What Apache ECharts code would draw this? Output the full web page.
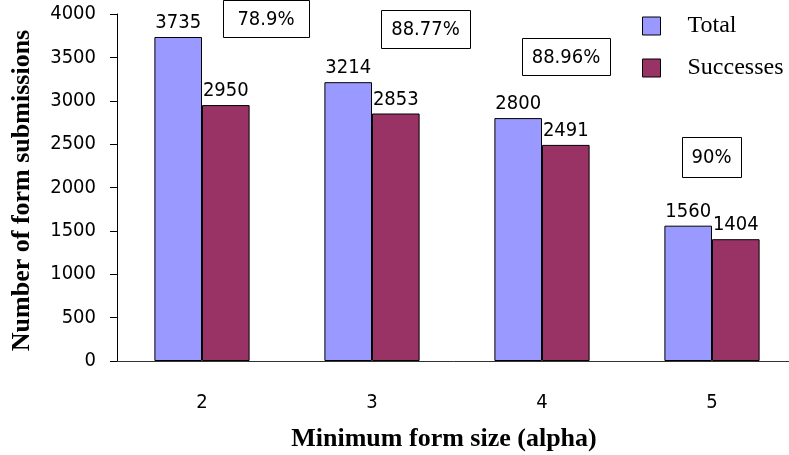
<!DOCTYPE html>
<html><head><meta charset="utf-8">
<script src="https://cdn.jsdelivr.net/npm/echarts@6/dist/echarts.min.js"></script>
<style>html,body{margin:0;padding:0;background:#fff}#c{width:789px;height:455px}</style>
</head><body><div id="c"></div>
<script>
const categories = ['2', '3', '4', '5'];
const totalValues = [3735, 3214, 2800, 1560];
const successValues = [2950, 2853, 2491, 1404];
const percentLabels = ['78.9%', '88.77%', '88.96%', '90%'];
const yTicks = { min: 0, max: 4000, interval: 500 };

const sansNarrow = '"DejaVu Sans Condensed", "Liberation Sans Narrow", sans-serif';
const serif = '"Liberation Serif", "DejaVu Serif", serif';

const chart = echarts.init(document.getElementById('c'), null, { renderer: 'canvas' });

// Annotation boxes (percent success) placed around each category
const boxPos = [
  { x: 223, y: 0, w: 86, h: 37 },
  { x: 381, y: 10, w: 89, h: 38 },
  { x: 522, y: 38, w: 88, h: 37 },
  { x: 682, y: 137, w: 59, h: 40 }
];
const graphics = percentLabels.map((t, i) => ({
  type: 'group',
  left: boxPos[i].x, top: boxPos[i].y,
  children: [
    { type: 'rect', shape: { x: 0.5, y: 0.5, width: boxPos[i].w, height: boxPos[i].h },
      style: { fill: '#fff', stroke: '#000', lineWidth: 1 } },
    { type: 'text', x: boxPos[i].w / 2, y: boxPos[i].h / 2 + 1,
      style: { text: t, font: '20px ' + sansNarrow, fill: '#000', align: 'center', verticalAlign: 'middle' } }
  ]
}));

const labelStyle = { show: true, position: 'top', distance: 4, color: '#000', fontSize: 20, fontFamily: sansNarrow };

chart.setOption({
  animation: false,
  backgroundColor: '#fff',
  grid: { left: 117, top: 14, width: 680, height: 347, containLabel: false, outerBoundsMode: 'none' },
  legend: {
    orient: 'vertical', left: 637, top: 9,
    itemWidth: 18, itemHeight: 18, itemGap: 18,
    icon: 'rect',
    itemStyle: { borderColor: '#000', borderWidth: 1 },
    textStyle: { fontFamily: serif, fontSize: 24, color: '#000', padding: [0, 0, 0, 22] },
    data: ['Total', 'Successes']
  },
  xAxis: {
    type: 'category', data: categories,
    name: 'Minimum form size (alpha)', nameLocation: 'middle', nameGap: 65,
    nameTextStyle: { fontFamily: serif, fontWeight: 'bold', fontSize: 26, color: '#000', padding: [0, 26, 0, 0] },
    axisLine: { lineStyle: { color: '#333', width: 1 } },
    axisTick: { show: false },
    axisLabel: { margin: 32, color: '#000', fontSize: 20, fontFamily: sansNarrow }
  },
  yAxis: {
    type: 'value', min: yTicks.min, max: yTicks.max, interval: yTicks.interval,
    name: 'Number of form submissions', nameLocation: 'middle', nameGap: 82, nameRotate: 90,
    nameTextStyle: { fontFamily: serif, fontWeight: 'bold', fontSize: 26, color: '#000', padding: [0, 6, 0, 0] },
    axisLine: { show: true, lineStyle: { color: '#000', width: 1 } },
    axisTick: { show: true, inside: false, length: 7, lineStyle: { color: '#000' } },
    splitLine: { show: false },
    axisLabel: { margin: 21, color: '#000', fontSize: 20, fontFamily: sansNarrow, formatter: v => String(v) }
  },
  series: [
    { name: 'Total', type: 'bar', data: totalValues, barGap: '0%', barCategoryGap: '44%',
      itemStyle: { color: '#9999FF', borderColor: '#000', borderWidth: 1 }, label: labelStyle },
    { name: 'Successes', type: 'bar', data: successValues, barGap: '0%', barCategoryGap: '44%',
      itemStyle: { color: '#993366', borderColor: '#000', borderWidth: 1 }, label: labelStyle }
  ],
  graphic: graphics
});
</script></body></html>
